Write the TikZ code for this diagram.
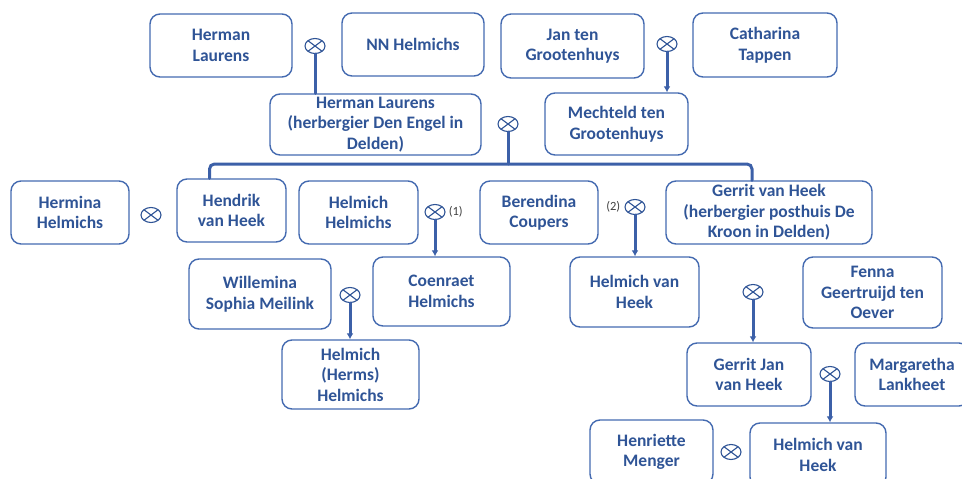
\documentclass[tikz,border=0pt]{standalone}
\usepackage{fontspec}
\setmainfont{Carlito}
\usepackage{tikz}
\usetikzlibrary{arrows.meta,positioning,shapes.geometric}

\begin{document}
\begin{tikzpicture}
[x=1pt,y=-1pt,line cap=round,
% Styles
person/.style={draw=boxcolor,line width=1.4pt,rounded corners=10pt,align=center,
  text=namecolor,font=\bfseries\fontsize{17.5}{20.5}\selectfont,inner sep=2pt},
union/.style={ellipse,draw=namecolor,line width=1.1pt,inner sep=0pt,
  minimum width=20pt,minimum height=15pt,
  path picture={\draw[namecolor,line width=1.1pt]
    (path picture bounding box.north west) -- (path picture bounding box.south east)
    (path picture bounding box.south west) -- (path picture bounding box.north east);}},
link/.style={draw=linecolor,line width=3pt},
child/.style={link,-{Latex[length=6pt,width=7pt]}},
note/.style={text=black!75,font=\fontsize{12.5}{14}\selectfont,inner sep=1pt}]
% Colors
\definecolor{boxcolor}{RGB}{68,106,176}
\definecolor{namecolor}{RGB}{47,84,150}
\definecolor{linecolor}{RGB}{60,96,168}
% The graphic
\useasboundingbox (0,0) rectangle (962,479);
\clip (0,0) rectangle (962,479);
% generation 1
\node[person,minimum width=142,minimum height=63] (herman) at (221,45.5) {Herman\\Laurens};
\node[person,minimum width=142,minimum height=63] (nn) at (413,44.5) {NN Helmichs};
\node[person,minimum width=143,minimum height=64] (jan) at (572.5,46) {Jan ten\\Grootenhuys};
\node[person,minimum width=144,minimum height=64] (catharina) at (765,45) {Catharina\\Tappen};
% generation 2
\node[person,minimum width=211,minimum height=61] (hermanjr) at (375.5,124.5)
  {Herman Laurens\\(herbergier Den Engel in\\Delden)};
\node[person,minimum width=143,minimum height=62] (mechteld) at (616.5,124) {Mechteld ten\\Grootenhuys};
% generation 3
\node[person,minimum width=118,minimum height=63] (hermina) at (70,212.5) {Hermina\\Helmichs};
\node[person,minimum width=109,minimum height=63] (hendrik) at (231.5,210.5) {Hendrik\\van Heek};
\node[person,minimum width=119,minimum height=63] (helmichh) at (358.5,212.5) {Helmich\\Helmichs};
\node[person,minimum width=118,minimum height=63] (berendina) at (539,212.5) {Berendina\\Coupers};
\node[person,minimum width=206,minimum height=63] (gerrit) at (769,212.5)
  {Gerrit van Heek\\(herbergier posthuis De\\Kroon in Delden)};
% generation 4
\node[person,minimum width=142,minimum height=70] (willemina) at (260,294) {Willemina\\Sophia Meilink};
\node[person,minimum width=137,minimum height=69] (coenraet) at (441.5,291.5) {Coenraet\\Helmichs};
\node[person,minimum width=129,minimum height=70] (helmichvh) at (634.5,292) {Helmich van\\Heek};
\node[person,minimum width=139,minimum height=71] (fenna) at (872.5,292.5) {Fenna\\Geertruijd ten\\Oever};
% generation 5
\node[person,minimum width=137,minimum height=69] (herms) at (350.5,374.5) {Helmich\\(Herms)\\Helmichs};
\node[person,minimum width=124,minimum height=63] (gerritjan) at (749,374.5) {Gerrit Jan\\van Heek};
\node[person,minimum width=114,minimum height=63] (margaretha) at (912,374.5) {Margaretha\\Lankheet};
% generation 6
\node[person,minimum width=123,minimum height=64] (henriette) at (651.5,452) {Henriette\\Menger};
\node[person,minimum width=136,minimum height=64] (helmichvh2) at (818,455) {Helmich van\\Heek};
% marriages
\foreach \m/\x/\y in {ma/315/46, mb/508/124, mc/667/44, md/151/215, me/435/212,
  mf/635/207, mg/350/295, mh/753/292, mi/830/374, mj/731/452}
  \node[union] (\m) at (\x,\y) {};
\node[note,right=2pt of me] (n1) {(1)};
\node[note,left=3pt of mf] (n2) {(2)};
% descent
\draw[link] (ma.south) -- (ma |- hermanjr.north);
\draw[child] (mc.south) -- (mc |- mechteld.north);
\coordinate (bar) at (508,164);
\draw[link] (mb.south) -- (bar);
\draw[link,rounded corners=5pt] ([xshift=-22]hendrik.north) |- (bar) -| ([xshift=-17]gerrit.north);
\draw[child] (me.south) -- (me |- coenraet.north);
\draw[child] (mf.south) -- (mf |- helmichvh.north);
\draw[child] (mg.south) -- (mg |- herms.north);
\draw[child] (mh.south) -- (mh |- gerritjan.north);
\draw[child] (mi.south) -- (mi |- helmichvh2.north);
\end{tikzpicture}
\end{document}
